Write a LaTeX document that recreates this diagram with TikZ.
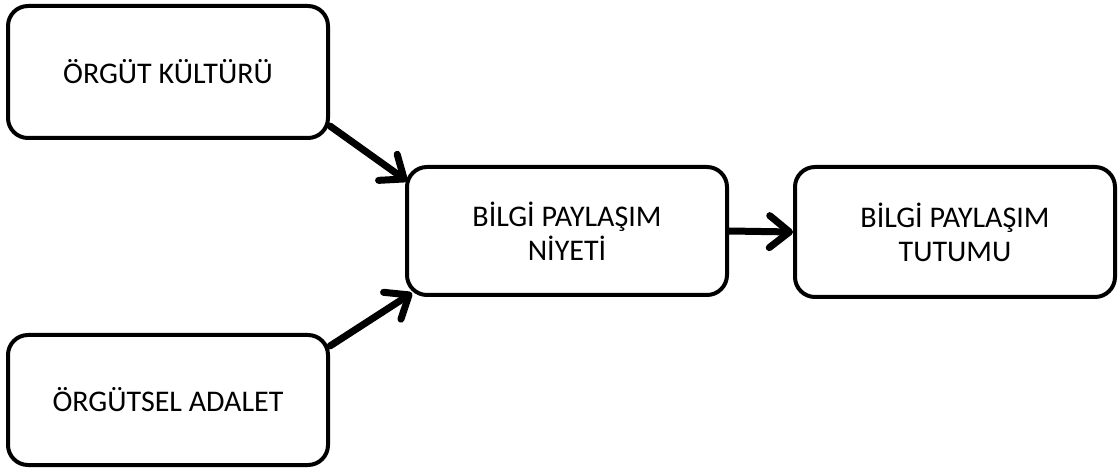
\documentclass[tikz,border=0pt]{standalone}
\usepackage{fontspec}
\setmainfont{Carlito}
\usetikzlibrary{arrows.meta}
\tikzset{
  kutu/.style={draw, line width=4pt, rounded corners=20pt, minimum width=320pt,
    minimum height=132pt, align=center, font=\fontsize{30}{34}\selectfont},
  ok/.style={line width=7pt, line cap=round, line join=round,
    -{Straight Barb[length=20pt,width=32pt,line cap=round,line join=round]}}
}
\begin{document}
\begin{tikzpicture}[x=1pt,y=-1pt]
		\useasboundingbox (0,0) rectangle (1120,470);

		\node[kutu] (kultur) at (168,72) {ÖRGÜT KÜLTÜRÜ};
		\node[kutu, minimum height=130pt] (adalet) at (168,400) {ÖRGÜTSEL ADALET};
		\node[kutu, minimum height=128pt] (niyet) at (567,231) {BİLGİ PAYLAŞIM\\NİYETİ};
		\node[kutu, minimum height=130pt] (tutum) at (955,232) {BİLGİ PAYLAŞIM\\TUTUMU};

		\draw[ok] ([yshift=14pt]kultur.south east) -- ([xshift=2pt,yshift=-16pt]niyet.north west);
		\draw[ok] ([yshift=-13pt]adalet.north east) -- ([xshift=7pt,yshift=4pt]niyet.south west);
		\draw[ok] (niyet.east) -- (tutum.west);
	\end{tikzpicture}
\end{document}
